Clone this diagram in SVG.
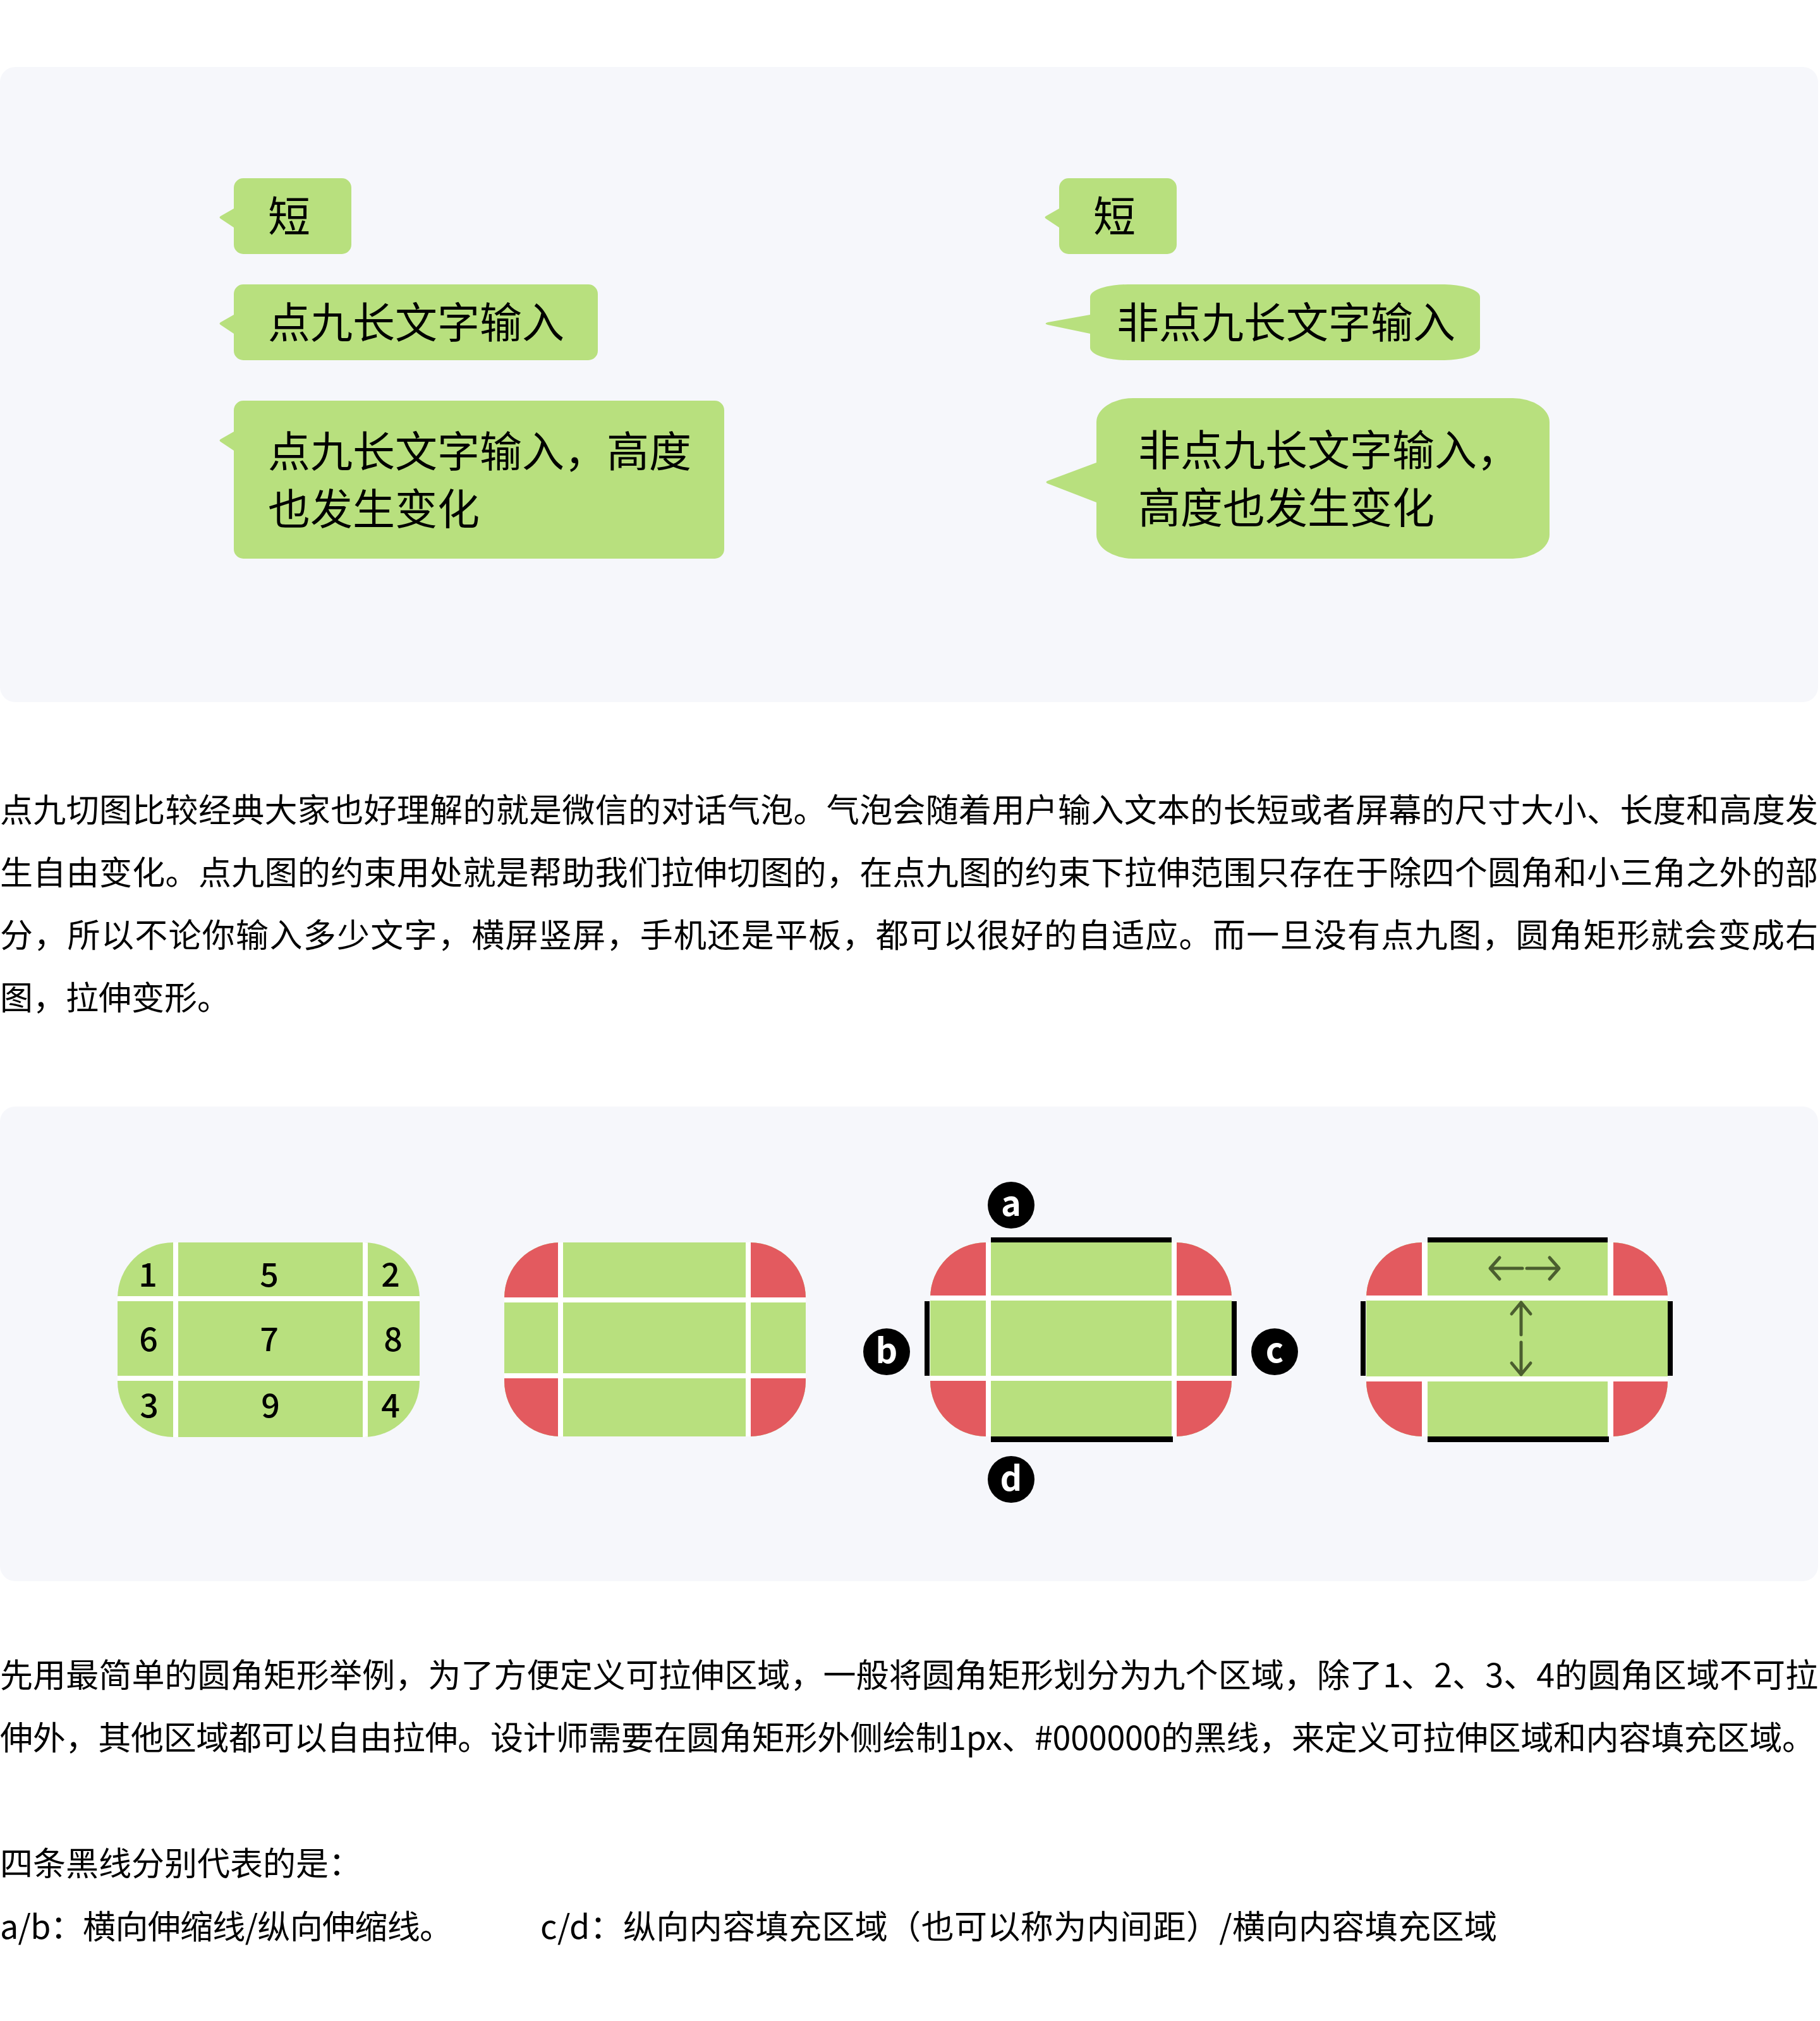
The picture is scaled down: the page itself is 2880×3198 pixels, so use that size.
<svg xmlns="http://www.w3.org/2000/svg" width="2880" height="3198" viewBox="0 0 2880 3198">
<style>
.bg{fill:#ffffff}
.panel{fill:#f6f7fb}
.g{fill:#b8e07e}
.r{fill:#e35a5f}
.w{fill:#ffffff}
.k{fill:#000000}
.t{font-family:"Noto Sans CJK SC","Noto Sans",sans-serif;fill:#000000}
.bt{font-size:67px}
.pt{font-size:52px}
.num{font-size:52px;font-weight:500;text-anchor:middle}
.lbl{font-family:"Noto Sans CJK SC","Noto Sans",sans-serif;font-size:54px;font-weight:700;fill:#ffffff;text-anchor:middle}
.arr{fill:none;stroke:#4b5e2f;stroke-width:5;stroke-linecap:round;stroke-linejoin:round}
</style>
<defs>
<clipPath id="c1"><rect x="186" y="1966" width="478" height="308" rx="88" ry="88"/></clipPath>
<clipPath id="c2"><rect x="798" y="1966" width="477" height="307" rx="88" ry="88"/></clipPath>
<clipPath id="c3"><rect x="1472" y="1966" width="477" height="307" rx="88" ry="88"/></clipPath>
<clipPath id="c4"><rect x="2162" y="1966" width="477" height="307" rx="88" ry="88"/></clipPath>
</defs>
<rect class="bg" x="0" y="0" width="2880" height="3198"/>

<g id="panel-top">
<rect class="panel" x="0" y="106" width="2877" height="1005" rx="24" ry="24"/>
</g>

<g id="bubble-l1">
<path class="g" d="M370,297 A15,15 0 0 1 385,282 H541 A15,15 0 0 1 556,297 V387 A15,15 0 0 1 541,402 H385 A15,15 0 0 1 370,387 V360 L349,346 Q346,344 349,342 L370,330 Z"/>
<text class="t bt" x="424" y="367">短</text>
</g>
<g id="bubble-l2">
<path class="g" d="M370,465 A15,15 0 0 1 385,450 H931 A15,15 0 0 1 946,465 V555 A15,15 0 0 1 931,570 H385 A15,15 0 0 1 370,555 V528 L349,514 Q346,512 349,510 L370,498 Z"/>
<text class="t bt" x="424" y="535">点九长文字输入</text>
</g>
<g id="bubble-l3">
<path class="g" d="M370,649 A15,15 0 0 1 385,634 H1131 A15,15 0 0 1 1146,649 V869 A15,15 0 0 1 1131,884 H385 A15,15 0 0 1 370,869 V713 L349,699 Q346,697 349,695 L370,683 Z"/>
<text class="t bt" x="424" y="739">点九长文字输入，高度</text>
<text class="t bt" x="424" y="830">也发生变化</text>
</g>
<g id="bubble-r1">
<path class="g" d="M1676,297 A15,15 0 0 1 1691,282 H1847 A15,15 0 0 1 1862,297 V387 A15,15 0 0 1 1847,402 H1691 A15,15 0 0 1 1676,387 V360 L1655,346 Q1652,344 1655,342 L1676,330 Z"/>
<text class="t bt" x="1730" y="367">短</text>
</g>
<g id="bubble-r2">
<path class="g" d="M1725,470 A60,20 0 0 1 1785,450 H2282 A60,20 0 0 1 2342,470 V550 A60,20 0 0 1 2282,570 H1785 A60,20 0 0 1 1725,550 V528 L1658,514 Q1651,512 1658,510 L1725,498 Z"/>
<text class="t bt" x="1767" y="535">非点九长文字输入</text>
</g>
<g id="bubble-r3">
<path class="g" d="M1735,668 A58,38 0 0 1 1793,630 H2394 A58,38 0 0 1 2452,668 V846 A58,38 0 0 1 2394,884 H1793 A58,38 0 0 1 1735,846 V795 L1660,766 Q1651,763 1660,760 L1735,732 Z"/>
<text class="t bt" x="1801" y="737">非点九长文字输入，</text>
<text class="t bt" x="1801" y="828">高度也发生变化</text>
</g>

<g id="paragraph-1" class="t pt">
<text x="0" y="1301" textLength="2877" lengthAdjust="spacing">点九切图比较经典大家也好理解的就是微信的对话气泡。气泡会随着用户输入文本的长短或者屏幕的尺寸大小、长度和高度发</text>
<text x="0" y="1400" textLength="2877" lengthAdjust="spacing">生自由变化。点九图的约束用处就是帮助我们拉伸切图的，在点九图的约束下拉伸范围只存在于除四个圆角和小三角之外的部</text>
<text x="0" y="1499" textLength="2877" lengthAdjust="spacing">分，所以不论你输入多少文字，横屏竖屏，手机还是平板，都可以很好的自适应。而一旦没有点九图，圆角矩形就会变成右</text>
<text x="0" y="1598">图，拉伸变形。</text>
</g>

<g id="panel-bottom">
<rect class="panel" x="0" y="1751" width="2877" height="751" rx="24" ry="24"/>
</g>

<g id="shape-1">
<g clip-path="url(#c1)">
<rect class="g" x="186" y="1966" width="478" height="308"/>
<rect class="w" x="274" y="1966" width="8" height="308"/>
<rect class="w" x="574" y="1966" width="8" height="308"/>
<rect class="w" x="186" y="2051" width="478" height="8"/>
<rect class="w" x="186" y="2177" width="478" height="8"/>
</g>
<text class="t num" x="234" y="2036">1</text>
<text class="t num" x="426" y="2036">5</text>
<text class="t num" x="618" y="2036">2</text>
<text class="t num" x="235" y="2138">6</text>
<text class="t num" x="426" y="2138">7</text>
<text class="t num" x="622" y="2138">8</text>
<text class="t num" x="236" y="2243">3</text>
<text class="t num" x="428" y="2243">9</text>
<text class="t num" x="618" y="2243">4</text>
</g>

<g id="shape-2">
<g clip-path="url(#c2)">
<rect class="g" x="798" y="1966" width="477" height="307"/>
<rect class="r" x="798" y="1966" width="85" height="87"/>
<rect class="r" x="1188" y="1966" width="87" height="87"/>
<rect class="r" x="798" y="2181" width="85" height="92"/>
<rect class="r" x="1188" y="2181" width="87" height="92"/>
<rect class="w" x="883" y="1966" width="8" height="307"/>
<rect class="w" x="1180" y="1966" width="8" height="307"/>
<rect class="w" x="798" y="2053" width="477" height="8"/>
<rect class="w" x="798" y="2173" width="477" height="8"/>
</g>
</g>

<g id="shape-3">
<g clip-path="url(#c3)">
<rect class="g" x="1472" y="1966" width="477" height="307"/>
<rect class="r" x="1472" y="1966" width="88" height="84"/>
<rect class="r" x="1862" y="1966" width="87" height="84"/>
<rect class="r" x="1472" y="2185" width="88" height="88"/>
<rect class="r" x="1862" y="2185" width="87" height="88"/>
<rect class="w" x="1560" y="1966" width="8" height="307"/>
<rect class="w" x="1854" y="1966" width="8" height="307"/>
<rect class="w" x="1472" y="2050" width="477" height="8"/>
<rect class="w" x="1472" y="2177" width="477" height="8"/>
</g>
<rect class="k" x="1568" y="1958" width="286" height="8"/>
<rect class="k" x="1568" y="2273" width="288" height="9"/>
<rect class="k" x="1463" y="2059" width="8" height="118"/>
<rect class="k" x="1949" y="2059" width="8" height="118"/>
</g>

<g id="label-a"><circle class="k" cx="1600" cy="1907" r="37"/><text class="lbl" x="1600" y="1924">a</text></g>
<g id="label-b"><circle class="k" cx="1403" cy="2139" r="37"/><text class="lbl" x="1403" y="2157">b</text></g>
<g id="label-c"><circle class="k" cx="2017" cy="2139" r="37"/><text class="lbl" x="2017" y="2156">c</text></g>
<g id="label-d"><circle class="k" cx="1600" cy="2341" r="37"/><text class="lbl" x="1600" y="2359">d</text></g>

<g id="shape-4">
<g clip-path="url(#c4)">
<rect class="g" x="2162" y="1966" width="477" height="307"/>
<rect class="r" x="2162" y="1966" width="88" height="84"/>
<rect class="r" x="2553" y="1966" width="86" height="84"/>
<rect class="r" x="2162" y="2186" width="88" height="87"/>
<rect class="r" x="2553" y="2186" width="86" height="87"/>
<rect class="w" x="2250" y="1966" width="9" height="84"/>
<rect class="w" x="2544" y="1966" width="9" height="84"/>
<rect class="w" x="2250" y="2186" width="9" height="87"/>
<rect class="w" x="2544" y="2186" width="9" height="87"/>
<rect class="w" x="2162" y="2050" width="477" height="8"/>
<rect class="w" x="2162" y="2178" width="477" height="8"/>
</g>
<rect class="k" x="2259" y="1958" width="285" height="8"/>
<rect class="k" x="2259" y="2273" width="287" height="9"/>
<rect class="k" x="2153" y="2059" width="8" height="118"/>
<rect class="k" x="2639" y="2059" width="8" height="118"/>
</g>

<g id="connectors">
<path class="arr" d="M2409,2007 H2359 M2373,1990 L2358,2007 L2373,2024"/>
<path class="arr" d="M2416,2007 H2466 M2452,1990 L2467,2007 L2452,2024"/>
<path class="arr" d="M2407,2112 V2061 M2392,2079 L2407,2061 L2422,2079"/>
<path class="arr" d="M2407,2124 V2175 M2392,2157 L2407,2175 L2422,2157"/>
</g>

<g id="paragraph-2" class="t pt">
<text x="0" y="2670" textLength="2877" lengthAdjust="spacing">先用最简单的圆角矩形举例，为了方便定义可拉伸区域，一般将圆角矩形划分为九个区域，除了1、2、3、4的圆角区域不可拉</text>
<text x="0" y="2769" textLength="2872" lengthAdjust="spacing">伸外，其他区域都可以自由拉伸。设计师需要在圆角矩形外侧绘制1px、#000000的黑线，来定义可拉伸区域和内容填充区域。</text>
<text x="0" y="2968">四条黑线分别代表的是：</text>
<text x="0" y="3068" textLength="716" lengthAdjust="spacing">a/b：横向伸缩线/纵向伸缩线。</text>
<text x="855" y="3068" textLength="1514" lengthAdjust="spacing">c/d：纵向内容填充区域（也可以称为内间距）/横向内容填充区域</text>
</g>
</svg>
